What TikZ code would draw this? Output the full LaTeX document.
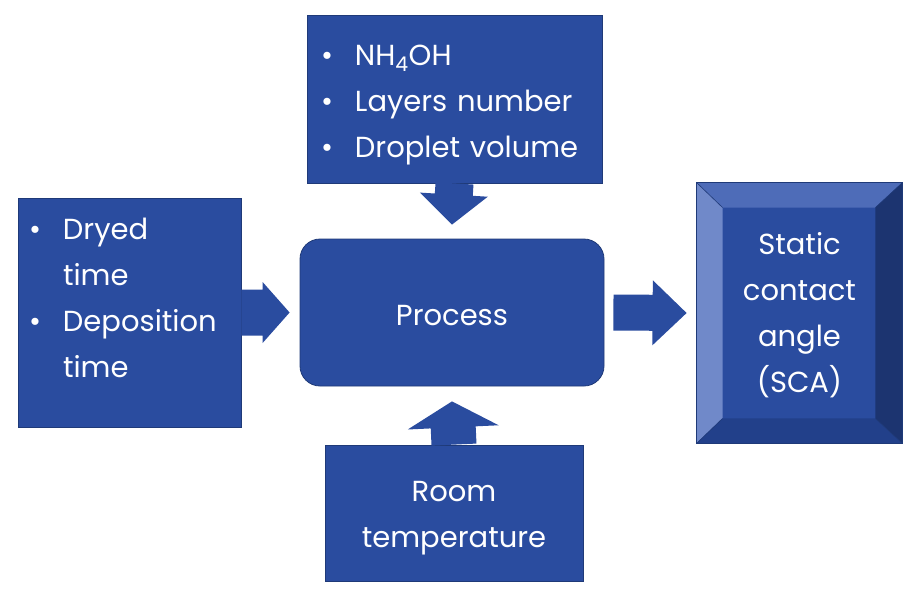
\documentclass[tikz,border=0pt]{standalone}
\usepackage{fontspec}
\setmainfont{Poppins}
\usetikzlibrary{arrows.meta, positioning, calc}

\definecolor{panelblue}{HTML}{2A4C9F}
\definecolor{paneledge}{HTML}{1F3A78}
\definecolor{bevtop}{HTML}{4E6CB8}
\definecolor{bevleft}{HTML}{7089C9}
\definecolor{bevright}{HTML}{1C3470}
\definecolor{bevbottom}{HTML}{22408A}

\newcommand{\bitem}{\makebox[34pt][l]{\textbullet}}
\newcommand{\bgap}{\hspace*{34pt}}
% invisible strut: pushes the text block down by half of #1
\newcommand{\lowr}[1]{\rule{0pt}{\dimexpr\fontcharht\font`H+#1\relax}}

\begin{document}
\begin{tikzpicture}[
  x=1pt,y=-1pt,
  panel/.style={draw=paneledge, line width=0.8pt, fill=panelblue, text=white, inner sep=0pt, font=\fontsize{29}{46}\selectfont},
  listpanel/.style={panel, align=left, inner xsep=14pt},
  % #1 half shaft, #2 half head, #3 head length
  fatarrow/.style n args={3}{fill=panelblue, to path={
    ($(\tikztostart)!#1!90:(\tikztotarget)$)
    -- ($(\tikztotarget)!#3!(\tikztostart)!#1!90:(\tikztotarget)$)
    -- ($(\tikztotarget)!#3!(\tikztostart)!#2!90:(\tikztotarget)$)
    -- (\tikztotarget)
    -- ($(\tikztotarget)!#3!(\tikztostart)!#2!-90:(\tikztotarget)$)
    -- ($(\tikztotarget)!#3!(\tikztostart)!#1!-90:(\tikztotarget)$)
    -- ($(\tikztostart)!#1!-90:(\tikztotarget)$) -- cycle}}
]
\fill[white] (0,0) rectangle (916,595);
\useasboundingbox (0,0) rectangle (916,595);

% inputs
\node[listpanel, text width=267pt, minimum height=168pt] (params) at (454.5,99)
  {\lowr{12pt}\bitem NH\textsubscript{4}OH\\ \bitem Layers number\\ \bitem Droplet volume};
\node[listpanel, inner xsep=11pt, text width=201pt, minimum height=229pt] (times) at (129.5,312.5)
  {\bitem Dryed\\ \bgap time\\ \bitem Deposition\\ \bgap time\\[-16pt] \mbox{}};
\node[panel, align=center, minimum width=258pt, minimum height=136pt] (room) at (454,513)
  {\lowr{10pt}Room\\ temperature};

% process
\node[panel, rounded corners=20pt, minimum width=304pt, minimum height=147pt] (proc) at (452,312.5) {\lowr{6pt}Process};

% output: bevelled box
\node[panel, align=center, minimum width=205pt, minimum height=260pt] (sca) at (799.5,313) {};
\coordinate (inNW) at ($(sca.north west)+(26,25)$);
\coordinate (inNE) at ($(sca.north east)+(-27,25)$);
\coordinate (inSW) at ($(sca.south west)+(26,-25)$);
\coordinate (inSE) at ($(sca.south east)+(-27,-25)$);
\fill[bevtop] (sca.north west) -- (sca.north east) -- (inNE) -- (inNW) -- cycle;
\fill[bevleft] (sca.north west) -- (inNW) -- (inSW) -- (sca.south west) -- cycle;
\fill[bevright] (sca.north east) -- (sca.south east) -- (inSE) -- (inNE) -- cycle;
\fill[bevbottom] (sca.south west) -- (inSW) -- (inSE) -- (sca.south east) -- cycle;
\draw[paneledge, line width=0.6pt] (sca.north west) -- (inNW) (sca.north east) -- (inNE)
  (sca.south west) -- (inSW) (sca.south east) -- (inSE);
\draw[paneledge, line width=0.8pt] (sca.north west) rectangle (sca.south east);
\node[text=white, align=center, inner sep=0pt, font=\fontsize{29}{46}\selectfont] (scatext) at (sca.center)
  {\lowr{7pt}Static\\ contact\\ angle\\ (SCA)};

% block arrows
\coordinate[above=14pt of proc.north] (tipTop);
\coordinate[left=10pt of proc.west] (tipLeft);
\coordinate[below=15pt of proc.south] (tipBottom);
\coordinate[right=9pt of proc.east] (tailOut);
\coordinate[left=10pt of sca.west] (tipOut);
\path[fatarrow={19pt}{34pt}{30pt}] (params.south) to (tipTop);
\path[fatarrow={23pt}{30.5pt}{27pt}] (times.east) to (tipLeft);
\path[fatarrow={22.5pt}{45.5pt}{26pt}] (room.north) to (tipBottom);
\path[fatarrow={18pt}{32.5pt}{34pt}] (tailOut) to (tipOut);

\end{tikzpicture}
\end{document}
